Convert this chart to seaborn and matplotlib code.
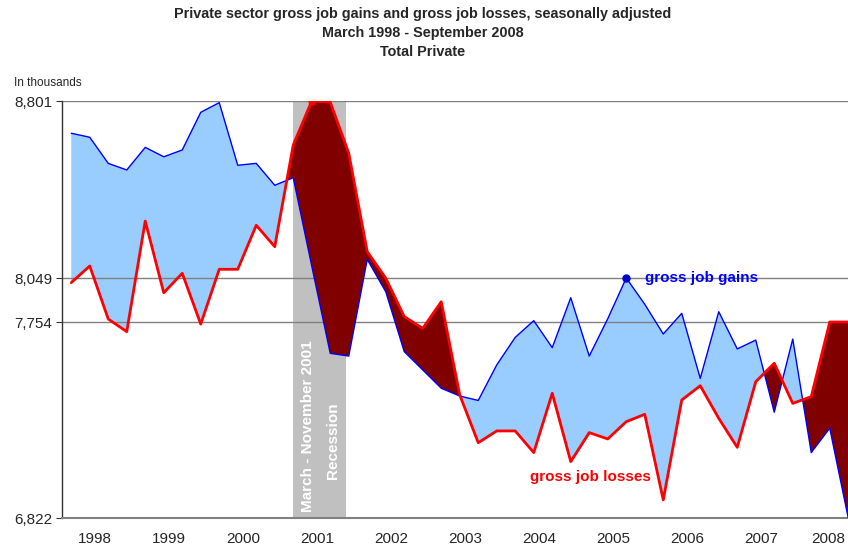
import numpy as np
import pandas as pd
import matplotlib
matplotlib.use('Agg')
import matplotlib.pyplot as plt
import seaborn as sns

# Quarterly values, March 1998 - September 2008 (in thousands)
years = ['1998', '1999', '2000', '2001', '2002', '2003', '2004', '2005', '2006', '2007', '2008']
gains = [8664, 8647, 8536, 8508, 8604, 8564, 8593, 8753, 8794, 8528, 8536, 8443,
         8475, 8100, 7605, 7592, 8128, 7957, 7613, 7526, 7439, 7402, 7381, 7550,
         7681, 7763, 7632, 7917, 7592, 7776, 8049, 7873, 7697, 7812, 7486, 7823,
         7626, 7668, 7325, 7673, 7133, 7249, 6822]
losses = [8018, 8100, 7774, 7708, 8291, 7950, 8069, 7744, 8086, 8086, 8273, 8182,
          8614, 8801, 8796, 8579, 8161, 8048, 7790, 7724, 7890, 7407, 7180, 7236,
          7236, 7133, 7415, 7090, 7228, 7198, 7280, 7315, 6908, 7383, 7451, 7296,
          7158, 7470, 7558, 7367, 7399, 7754, 7754]
ytick_values = [6822, 7754, 8049, 8801]
ytick_labels = ['6,822', '7,754', '8,049', '8,801']
recession_start = 12     # March 2001 (quarter index)
recession_end = 14.83    # November 2001

quarter = np.arange(len(gains))
df = pd.DataFrame({'quarter': quarter, 'gains': gains, 'losses': losses})

sns.set_style('white')
plt.rcParams['font.family'] = ['Liberation Sans', 'DejaVu Sans']

# the original axis is not evenly spaced between its labelled values
axis_heights = [0, 196, 240, 417]
lo_slope = (axis_heights[1] - axis_heights[0]) / (ytick_values[1] - ytick_values[0])
hi_slope = (axis_heights[3] - axis_heights[2]) / (ytick_values[3] - ytick_values[2])
xp = [0] + ytick_values + [20000]
fp = [-ytick_values[0] * lo_slope] + axis_heights + [axis_heights[3] + (20000 - ytick_values[3]) * hi_slope]

def fwd(v):
    return np.interp(v, xp, fp)

def inv(h):
    return np.interp(h, fp, xp)

fig = plt.figure(figsize=(8.48, 5.5), dpi=100)
ax = fig.add_axes([62 / 848, 32 / 550, 814 / 848, 417 / 550])
ax.set_yscale('function', functions=(fwd, inv))

ax.axvspan(recession_start, recession_end, color='#C0C0C0', lw=0, zorder=0)
for v in ytick_values[1:]:
    ax.axhline(v, color='#808080', lw=1, zorder=1.5)

g = np.array(gains)
l = np.array(losses)
ax.fill_between(quarter, g, l, where=g >= l, interpolate=True, color='#99CCFF', lw=0, zorder=1)
ax.fill_between(quarter, g, l, where=l >= g, interpolate=True, color='#800000', lw=0, zorder=2)

sns.lineplot(data=df, x='quarter', y='gains', color='#0000FF', lw=1, ax=ax, zorder=3)
sns.lineplot(data=df, x='quarter', y='losses', color='#FF0000', lw=2, ax=ax, zorder=3)

i_max = int(np.argmax(l))
ax.plot(quarter[i_max], l[i_max], 'o', color='#FF0000', ms=5, zorder=4)
ax.plot(30, g[30], 'o', color='#0000CC', ms=5, zorder=4)

ax.text(31.0, g[30], 'gross job gains', color='#0000FF', fontsize=11, fontweight='bold', va='center')
ax.text(24.8, 7017, 'gross job losses', color='#FF0000', fontsize=11, fontweight='bold', va='center')
ax.text(12.78, 7259, 'March - November 2001', color='white', fontsize=11, rotation=90,
        ha='center', va='center', fontweight='bold', zorder=5)
ax.text(14.15, 7188, 'Recession', color='white', fontsize=11, rotation=90,
        ha='center', va='center', fontweight='bold', zorder=5)

ax.set_xlim(-0.5, 43.5)
ax.set_ylim(6822, 8801)
ax.set_yticks(ytick_values)
ax.set_yticklabels(ytick_labels, fontsize=11)
# year labels sit mid-year; the last one is nudged in so it stays inside the frame
year_pos = [1.3 + 4 * k for k in range(len(years))]
year_pos[-1] = 40.9
ax.set_xticks(year_pos)
ax.set_xticklabels(years, fontsize=11)
ax.set_xticks([-0.5 + 4 * k for k in range(len(years) + 1)], minor=True)
ax.tick_params(axis='x', which='major', length=0, pad=10)
ax.tick_params(axis='x', which='minor', length=4, color='#808080', direction='out')
ax.tick_params(axis='y', length=4, direction='out', color='#333333', left=True, pad=3)
ax.set_xlabel('')
ax.set_ylabel('')
for s in ['top', 'right']:
    ax.spines[s].set_visible(False)
ax.spines['left'].set_color('#333333')
ax.spines['bottom'].set_color('#808080')
ax.spines['left'].set_linewidth(1)
ax.spines['bottom'].set_linewidth(1.5)

fig.text(14 / 848, 1 - 83 / 550, 'In thousands', fontsize=8.5, va='center', ha='left')
fig.text(423 / 848, 1 - 14 / 550, 'Private sector gross job gains and gross job losses, seasonally adjusted',
         fontsize=10.4, fontweight='bold', ha='center', va='center')
fig.text(423 / 848, 1 - 33 / 550, 'March 1998 - September 2008', fontsize=10.4, fontweight='bold',
         ha='center', va='center')
fig.text(423 / 848, 1 - 52 / 550, 'Total Private', fontsize=10.4, fontweight='bold', ha='center', va='center')

fig.savefig('out.png', dpi=100)
